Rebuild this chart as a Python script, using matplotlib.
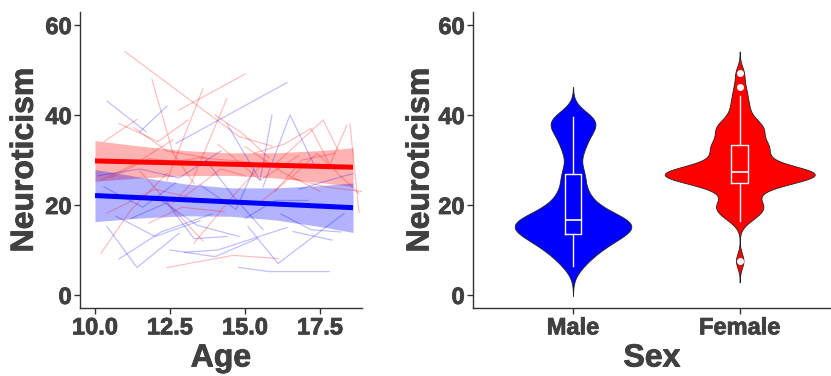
import numpy as np
import matplotlib
matplotlib.use("Agg")
import matplotlib.pyplot as plt
import matplotlib.patheffects as pe

plt.rcParams['font.family'] = ['Liberation Sans', 'DejaVu Sans']
plt.rcParams['font.weight'] = 'bold'

# individual trajectories: ages and scores per subject
female_ages = [
    [11.0, 14.8, 15.9], [12.8, 15.0], [11.9, 12.6, 13.3], [12.4, 13.6],
    [12.6, 13.2, 14.4], [10.3, 11.4], [10.8, 12.1, 13.1], [11.3, 12.4, 13.7],
    [15.3, 16.3, 17.2, 17.8], [16.0, 17.6, 18.1], [17.8, 18.4], [18.5, 18.8],
    [10.2, 11.2, 12.4], [12.4, 14.6, 16.1], [10.5, 11.8, 13.0], [10.4, 12.0, 13.3],
    [14.0, 14.9, 15.8], [12.0, 13.5, 15.2], [14.1, 15.5, 16.8], [13.0, 14.2, 15.0],
    [15.0, 16.2, 17.5], [16.6, 17.4, 18.8], [11.5, 12.9, 13.6], [13.3, 14.6, 15.7],
    [15.5, 16.5, 17.7, 18.9], [10.2, 11.3, 12.6], [16.0, 16.9, 18.0], [11.8, 12.9, 14.3],
]
female_scores = [
    [54.1, 35.2, 33.1], [41.1, 49.1], [47.9, 31.5, 24.8], [25.5, 45.9],
    [20.4, 24.8, 43.7], [34.1, 39.0], [38.1, 34.1, 38.9], [37.2, 32.0, 30.5],
    [31.5, 33.5, 37.0, 29.3], [29.0, 38.9, 32.2], [28.5, 37.8], [38.0, 18.3],
    [9.3, 18.9, 27.0], [6.1, 8.8, 8.1], [26.0, 30.3, 29.5], [18.2, 23.5, 21.5],
    [40.0, 36.0, 30.5], [29.0, 30.5, 29.5], [33.5, 25.5, 31.0], [22.0, 28.0, 26.5],
    [33.0, 27.5, 23.0], [26.5, 31.5, 22.5], [27.5, 17.0, 12.0], [11.5, 22.0, 30.0],
    [20.5, 26.0, 24.0, 23.0], [25.5, 29.0, 34.5], [23.0, 30.0, 31.5], [16.0, 19.5, 18.5],
]
male_ages = [
    [10.4, 11.7], [11.5, 12.4], [12.7, 16.4], [14.4, 15.5, 15.9],
    [15.6, 16.5, 17.3], [10.4, 11.4, 12.8], [10.8, 12.2, 13.9], [14.8, 15.8, 17.8],
    [15.1, 16.1, 18.3], [13.0, 14.1, 16.4], [16.6, 17.9], [10.7, 12.0, 13.5],
    [11.2, 12.4, 13.3, 14.4], [12.0, 13.4, 14.8], [10.1, 11.5, 12.8, 14.2], [13.7, 14.6, 15.6],
    [12.5, 14.0, 15.4], [15.0, 16.0, 17.1], [16.8, 17.8, 18.6], [10.3, 11.6, 12.7],
    [16.2, 17.2, 18.2], [13.5, 14.7, 15.3],
]
male_scores = [
    [43.1, 36.3], [36.3, 42.0], [33.7, 47.2], [38.0, 25.5, 40.0],
    [24.0, 40.0, 29.0], [15.2, 6.1, 13.7], [8.0, 14.0, 18.0], [6.1, 5.2, 5.2],
    [15.2, 7.0, 18.1], [9.5, 10.0, 15.0], [14.1, 12.2], [17.5, 13.0, 16.5],
    [17.0, 20.5, 12.5, 13.0], [22.0, 15.5, 13.0], [26.5, 28.0, 26.0, 32.0], [30.0, 22.0, 14.5],
    [10.0, 8.5, 12.5], [17.0, 21.0, 21.0], [23.5, 25.5, 27.0], [24.0, 19.5, 25.0],
    [18.0, 14.5, 14.0], [24.5, 19.0, 28.0],
]

# model fit with confidence band, read at these ages
fit_ages = [10.0, 11.5, 13.0, 14.5, 16.0, 17.5, 18.6]
female_fit = [29.8, 29.55, 29.31, 29.07, 28.83, 28.58, 28.4]
female_lo = [25.3, 26.0, 26.5, 26.6, 26.0, 25.0, 24.1]
female_hi = [34.3, 33.1, 32.1, 31.6, 31.6, 32.1, 32.7]
male_fit = [22.1, 21.63, 21.16, 20.69, 20.22, 19.75, 19.4]
male_lo = [16.3, 17.1, 17.6, 17.5, 16.7, 15.2, 13.9]
male_hi = [27.9, 26.2, 24.7, 23.8, 23.8, 24.3, 24.9]

# scores for the violin panel
sexes = ['Male', 'Female']
male_all = [6.4, 8.0, 9.2, 10.0, 10.8, 11.4, 12.0, 12.5, 13.0, 13.5,
            13.7, 14.1, 14.5, 14.9, 15.2, 15.5, 15.8, 16.1, 16.3, 16.6,
            16.8, 17.2, 17.8, 18.5, 19.3, 20.2, 21.3, 22.6, 24.2, 26.8,
            27.2, 31.0, 33.0, 34.5, 36.0, 37.2, 38.0, 38.8, 39.3, 39.6]
female_all = [7.6, 16.5, 17.5, 18.3, 18.8, 19.3, 19.8, 20.3, 20.9, 21.8,
              23.0, 23.8, 24.3, 24.6, 24.8, 24.9, 25.3, 25.7, 26.0, 26.2,
              26.4, 26.5, 26.6, 26.7, 26.8, 26.9, 27.0, 27.1, 27.2, 27.3,
              27.3, 27.5, 27.7, 28.0, 28.4, 28.8, 29.3, 29.8, 30.3, 30.8,
              31.4, 32.0, 32.6, 33.0, 33.3, 33.4, 34.2, 35.0, 35.8, 36.4,
              36.9, 37.3, 37.8, 38.5, 39.5, 41.0, 42.5, 44.2, 46.3, 49.3]
bandwidth = {'Male': 2.2, 'Female': 1.6}

RED = '#ff0000'
BLUE = '#0000ff'
TXT = '#404040'
heavy = [pe.withStroke(linewidth=0.6, foreground=TXT)]


def kde(vals, bw):
    vals = np.asarray(vals)
    grid = np.linspace(vals.min() - 3 * bw, vals.max() + 3 * bw, 512)
    d = np.exp(-0.5 * ((grid[:, None] - vals[None, :]) / bw) ** 2).sum(1)
    return grid, d / (len(vals) * bw * np.sqrt(2 * np.pi))


def style(ax):
    for s in ['top', 'right']:
        ax.spines[s].set_visible(False)
    for s in ['left', 'bottom']:
        ax.spines[s].set_color('#333333')
        ax.spines[s].set_linewidth(1.0)
    ax.tick_params(colors='#333333', labelcolor=TXT, labelsize=17,
                   length=4, width=1.0, pad=2)
    for t in ax.get_xticklabels() + ax.get_yticklabels():
        t.set_path_effects(heavy)


fig = plt.figure(figsize=(8.31, 3.76), dpi=100)

# ---- left: trajectories by age
ax1 = fig.add_axes([80 / 831, 68 / 376, 282 / 831, 296 / 376])
for a, s in zip(female_ages, female_scores):
    ax1.plot(a, s, color=RED, alpha=0.25, lw=0.9)
for a, s in zip(male_ages, male_scores):
    ax1.plot(a, s, color=BLUE, alpha=0.25, lw=0.9)
ax1.fill_between(fit_ages, female_lo, female_hi, color=RED, alpha=0.3, lw=0)
ax1.fill_between(fit_ages, male_lo, male_hi, color=BLUE, alpha=0.3, lw=0)
ax1.plot(fit_ages, female_fit, color=RED, lw=3.6, solid_capstyle='butt')
ax1.plot(fit_ages, male_fit, color=BLUE, lw=3.6, solid_capstyle='butt')
ax1.set_xlim(9.5, 18.9)
ax1.set_ylim(-2.9, 62.9)
ax1.set_xticks([10.0, 12.5, 15.0, 17.5])
ax1.set_xticklabels(['10.0', '12.5', '15.0', '17.5'])
ax1.set_yticks([0, 20, 40, 60])
style(ax1)
ax1.set_xlabel('Age', fontsize=23, color=TXT, fontweight='bold', labelpad=3,
               path_effects=heavy)
ax1.set_ylabel('Neuroticism', fontsize=23, color=TXT, fontweight='bold', labelpad=4,
               path_effects=heavy)

# ---- right: violins by sex
ax2 = fig.add_axes([473 / 831, 68 / 376, 358 / 831, 296 / 376])
groups = [male_all, female_all]
colors = [BLUE, RED]
dens = [kde(g, bandwidth[n]) for g, n in zip(groups, sexes)]
dmax = max(d.max() for _, d in dens)
for i, ((grid, d), c) in enumerate(zip(dens, colors)):
    w = d / dmax * 0.45
    ax2.fill_betweenx(grid, i + 1 - w, i + 1 + w, facecolor=c,
                      edgecolor='#222222', lw=0.6, zorder=2)
ax2.boxplot(groups, positions=[1, 2], widths=0.1, showcaps=False,
            boxprops=dict(color='white', lw=1.0),
            whiskerprops=dict(color='white', lw=1.0),
            medianprops=dict(color='white', lw=1.2),
            flierprops=dict(marker='o', markerfacecolor='white',
                            markeredgecolor='white', markersize=4),
            zorder=3, manage_ticks=False)
ax2.set_xlim(0.4, 0.4 + 358 / 166.7)
ax2.set_ylim(-2.9, 62.9)
ax2.set_xticks([1, 2])
ax2.set_xticklabels(sexes)
ax2.set_yticks([0, 20, 40, 60])
style(ax2)
ax2.set_xlabel('Sex', fontsize=23, color=TXT, fontweight='bold', labelpad=3,
               path_effects=heavy)
ax2.set_ylabel('Neuroticism', fontsize=23, color=TXT, fontweight='bold', labelpad=2,
               path_effects=heavy)

fig.savefig('out.png', dpi=100)
